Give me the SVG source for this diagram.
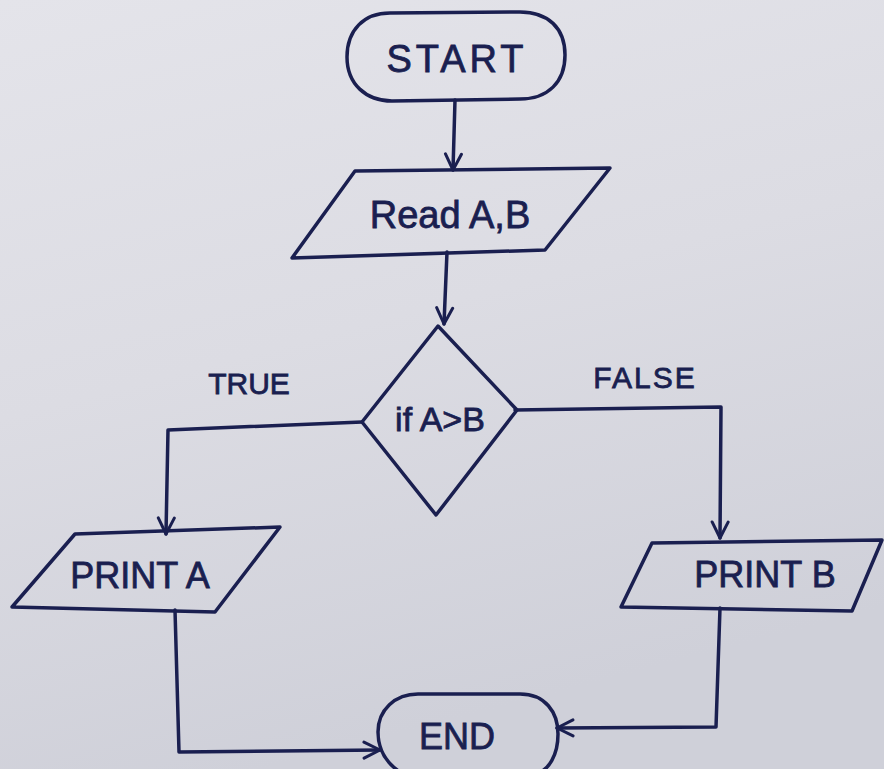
<svg xmlns="http://www.w3.org/2000/svg" width="884" height="769" viewBox="0 0 884 769">
  <defs>
    <linearGradient id="paper" x1="0" y1="0" x2="0.3" y2="1">
      <stop offset="0" stop-color="#e4e4ea"/>
      <stop offset="0.5" stop-color="#dcdce3"/>
      <stop offset="1" stop-color="#cfd0d9"/>
    </linearGradient>
    <marker id="vee" viewBox="0 0 20 20" refX="18" refY="10" markerWidth="20" markerHeight="20" markerUnits="userSpaceOnUse" orient="auto">
      <polyline points="2,2 18,10 2,18" fill="none" stroke="#1a1f50" stroke-width="3" stroke-linecap="round" stroke-linejoin="round"/>
    </marker>
    <style>
      .ink { fill: none; stroke: #1a1f50; stroke-width: 3.5; stroke-linecap: round; stroke-linejoin: round; }
      .lbl { fill: #1a1f50; stroke: #1a1f50; stroke-width: 0.8; font-family: "Liberation Sans", Arial, sans-serif; text-anchor: middle; }
    </style>
  </defs>

  <!-- paper -->
  <rect x="0" y="0" width="884" height="769" fill="url(#paper)"/>

  <!-- connectors -->
  <g id="connectors">
    <path class="ink" d="M455,100 L453,170" marker-end="url(#vee)"/>
    <path class="ink" d="M447,252 L444,324" marker-end="url(#vee)"/>
    <path class="ink" d="M362,422 L168,430 L166,534" marker-end="url(#vee)"/>
    <path class="ink" d="M515,410 L721,407 L720,538" marker-end="url(#vee)"/>
    <path class="ink" d="M175,610 L179,752 L380,750" marker-end="url(#vee)"/>
    <path class="ink" d="M720,608 L716,727 L557,728" marker-end="url(#vee)"/>
    <text class="lbl" x="249" y="394" font-size="30">TRUE</text>
    <text class="lbl" x="645" y="388" font-size="30" letter-spacing="2">FALSE</text>
  </g>

  <!-- start terminal -->
  <g id="start">
    <path class="ink" d="M390,13 L520,12 C548,12 565,28 565,55 C565,82 548,99 520,99 L392,101 C366,101 347,84 347,57 C347,30 364,13 390,13 Z"/>
    <text class="lbl" x="457" y="72" font-size="38" letter-spacing="4">START</text>
  </g>

  <!-- input -->
  <g id="read">
    <path class="ink" d="M355,171 L610,168 L545,250 L292,258 Z"/>
    <text class="lbl" x="450" y="228" font-size="38">Read A,B</text>
  </g>

  <!-- decision -->
  <g id="decision">
    <path class="ink" d="M438,326 L517,410 L436,515 L362,422 Z"/>
    <text class="lbl" x="440" y="431" font-size="34">if A&gt;B</text>
  </g>

  <!-- output A -->
  <g id="print-a">
    <path class="ink" d="M75,534 L280,527 L215,612 L12,607 Z"/>
    <text class="lbl" x="140" y="588" font-size="36">PRINT A</text>
  </g>

  <!-- output B -->
  <g id="print-b">
    <path class="ink" d="M652,543 L882,540 L852,611 L621,607 Z"/>
    <text class="lbl" x="765" y="587" font-size="36">PRINT B</text>
  </g>

  <!-- end terminal -->
  <g id="end">
    <path class="ink" d="M418,694 L520,694 C545,694 558,712 558,734 C558,756 548,769 540,772 M400,772 C385,762 378,748 378,732 C378,710 395,694 418,694"/>
    <text class="lbl" x="457" y="749" font-size="36">END</text>
  </g>
</svg>
